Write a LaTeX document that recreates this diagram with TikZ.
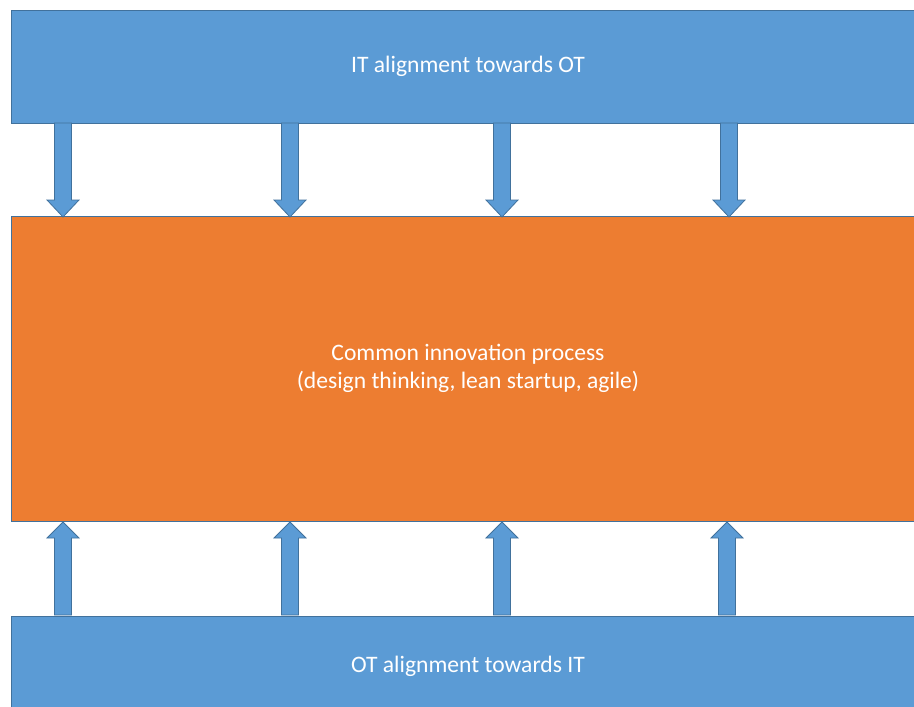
\documentclass[tikz,border=0pt]{standalone}
\usepackage{fontspec}
\setmainfont{Carlito}
\definecolor{itblue}{HTML}{5B9BD5}
\definecolor{itorange}{HTML}{ED7D31}
\definecolor{edgeblue}{HTML}{41719C}
\tikzset{
	layerbox/.style={draw=edgeblue, line width=0.8pt, fill=#1, text=white, font=\fontsize{23.6}{28}\selectfont, align=center, inner sep=0pt},
	blockarrow/.style={draw=edgeblue, line width=0.8pt, fill=itblue}
}
\begin{document}
\begin{tikzpicture}[x=1pt, y=-1pt]
		\useasboundingbox (0, 0) rectangle (914, 707);
		\clip (0, 0) rectangle (914, 707);
		\fill[white] (0, 0) rectangle (914, 707);
		% the three layers
		\node[layerbox=itblue, minimum width=914, minimum height=113] (itlayer) at (468, 66.5) {IT alignment towards OT};
		\node[layerbox=itorange, minimum width=914, minimum height=305] (process) at (468, 368.5) {Common innovation process\\(design thinking, lean startup, agile)};
		\node[layerbox=itblue, minimum width=914, minimum height=100] (otlayer) at (468, 666) {OT alignment towards IT};
		% arrows down from IT
		\foreach \x in {63, 290, 502, 729} {
			\draw[blockarrow] (\x-8.5, 123) -- (\x+8.5, 123) -- (\x+8.5, 200) -- (\x+16, 200) -- (\x, 217) -- (\x-16, 200) -- (\x-8.5, 200) -- cycle;
		}
		% arrows up from OT
		\foreach \x in {63, 290, 502, 727} {
			\draw[blockarrow] (\x-8.5, 615) -- (\x+8.5, 615) -- (\x+8.5, 538) -- (\x+16, 538) -- (\x, 522) -- (\x-16, 538) -- (\x-8.5, 538) -- cycle;
		}
	\end{tikzpicture}
\end{document}
